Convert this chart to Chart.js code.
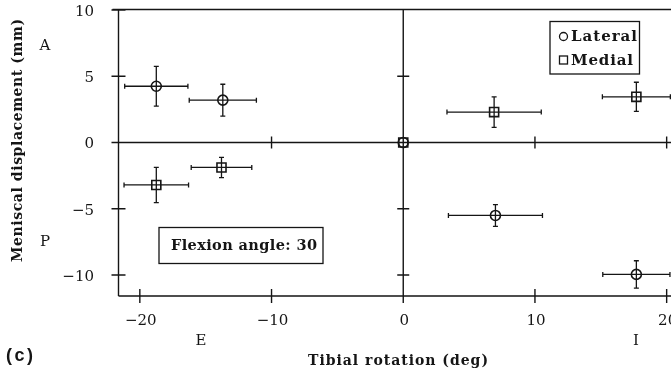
<!DOCTYPE html>
<html>
<head>
<meta charset="utf-8">
<script src="https://cdn.jsdelivr.net/npm/chart.js@4/dist/chart.umd.min.js"></script>
<style>
  html, body { margin: 0; padding: 0; background: #fff; }
  canvas { display: block; }
</style>
</head>
<body>
<canvas id="c" width="671" height="375"></canvas>
<script>
// ---- Data ----
const seriesNames = ['Lateral', 'Medial'];
const lateralX    = [-18.75, -13.7, 0, 7.0, 17.7];
const lateralY    = [4.25, 3.2, 0, -5.5, -9.95];
const lateralXErr = [2.4, 2.55, 0, 3.57, 2.55];
const lateralYErr = [1.5, 1.2, 0, 0.82, 1.03];
const medialX     = [-18.75, -13.8, 0, 6.9, 17.7];
const medialY     = [-3.2, -1.88, 0, 2.3, 3.45];
const medialXErr  = [2.45, 2.3, 0, 3.58, 2.58];
const medialYErr  = [1.33, 0.76, 0, 1.15, 1.1];

const xTickValues = [-20, -10, 0, 10, 20];
const xTickLabels = ['\u221220', '\u221210', '0', '10', '20'];
const yTickValues = [10, 5, 0, -5, -10];
const yTickLabels = ['10', '5', '0', '\u22125', '\u221210'];

const xTitle = 'Tibial rotation (deg)';
const yTitle = 'Meniscal displacement (mm)';
const annotationText = 'Flexion angle: 30';
const panelLabel = '(c)';
const yDirLabels = ['A', 'P'];
const xDirLabels = ['E', 'I'];

const INK = '#151515';
const SERIF = '"DejaVu Serif", serif';

function pts(xs, ys) { return xs.map((x, i) => ({ x: x, y: ys[i] })); }

const errorBars = {
  Lateral: { xe: lateralXErr, ye: lateralYErr },
  Medial:  { xe: medialXErr,  ye: medialYErr }
};

function fitText(ctx, text, x, y, width) {
  ctx.letterSpacing = '0px';
  const w = ctx.measureText(text).width;
  const n = Math.max(1, text.length - 1);
  const sp = Math.max(0, (width - w) / n);
  ctx.letterSpacing = sp + 'px';
  ctx.fillText(text, x, y);
  ctx.letterSpacing = '0px';
}

const framePlugin = {
  id: 'frame',
  beforeDatasetsDraw(chart) {
    const { ctx, chartArea: a, scales: { x, y } } = chart;
    ctx.save();
    ctx.strokeStyle = INK;
    ctx.lineWidth = 1.4;
    ctx.lineCap = 'butt';
    const x0 = x.getPixelForValue(0), y0 = y.getPixelForValue(0);
    ctx.beginPath();
    ctx.moveTo(a.left, a.top); ctx.lineTo(a.left, a.bottom);
    ctx.moveTo(a.left - 6, a.top); ctx.lineTo(a.right, a.top);
    ctx.moveTo(a.left, a.bottom); ctx.lineTo(a.right, a.bottom);
    ctx.moveTo(x0, a.top); ctx.lineTo(x0, a.bottom);
    ctx.moveTo(a.left, y0); ctx.lineTo(a.right, y0);
    yTickValues.forEach(v => {
      const py = y.getPixelForValue(v);
      ctx.moveTo(a.left - 7, py); ctx.lineTo(a.left + 7, py);
    });
    xTickValues.forEach(v => {
      const px = x.getPixelForValue(v);
      ctx.moveTo(px, a.bottom - 7); ctx.lineTo(px, a.bottom + 7);
    });
    yTickValues.filter(v => v !== 0 && v !== 10).forEach(v => {
      const py = y.getPixelForValue(v);
      ctx.moveTo(x0 - 6, py); ctx.lineTo(x0 + 6, py);
    });
    xTickValues.filter(v => v !== 0 && v !== -20).forEach(v => {
      const px = x.getPixelForValue(v);
      ctx.moveTo(px, y0 - 6); ctx.lineTo(px, y0 + 6);
    });
    ctx.stroke();

    ctx.lineWidth = 1.3;
    chart.data.datasets.forEach((ds) => {
      const eb = errorBars[ds.label];
      ds.data.forEach((p, i) => {
        const xe = eb.xe[i], ye = eb.ye[i];
        const cx = x.getPixelForValue(p.x), cy = y.getPixelForValue(p.y);
        ctx.beginPath();
        if (xe > 0) {
          const l = x.getPixelForValue(p.x - xe), r = x.getPixelForValue(p.x + xe);
          ctx.moveTo(l, cy); ctx.lineTo(r, cy);
          ctx.moveTo(l, cy - 2.5); ctx.lineTo(l, cy + 2.5);
          ctx.moveTo(r, cy - 2.5); ctx.lineTo(r, cy + 2.5);
        }
        if (ye > 0) {
          const t = y.getPixelForValue(p.y + ye), b = y.getPixelForValue(p.y - ye);
          ctx.moveTo(cx, t); ctx.lineTo(cx, b);
          ctx.moveTo(cx - 2.5, t); ctx.lineTo(cx + 2.5, t);
          ctx.moveTo(cx - 2.5, b); ctx.lineTo(cx + 2.5, b);
        }
        ctx.stroke();
      });
    });
    ctx.restore();
  },
  afterDraw(chart) {
    const { ctx, scales: { x, y } } = chart;
    ctx.save();
    ctx.fillStyle = INK;
    ctx.strokeStyle = INK;
    ctx.font = '15px ' + SERIF;
    ctx.textAlign = 'right';
    ctx.textBaseline = 'middle';
    yTickValues.forEach((v, i) => {
      ctx.fillText(yTickLabels[i], 94, y.getPixelForValue(v) + 2);
    });
    ctx.textAlign = 'center';
    xTickValues.forEach((v, i) => {
      ctx.fillText(xTickLabels[i], x.getPixelForValue(v) + 1, 321);
    });
    ctx.fillText(yDirLabels[0], 45, 46);
    ctx.fillText(yDirLabels[1], 45, 242);
    ctx.fillText(xDirLabels[0], 201, 341);
    ctx.fillText(xDirLabels[1], 636, 341);

    // axis titles
    ctx.font = 'bold 14px ' + SERIF;
    ctx.textAlign = 'left';
    fitText(ctx, xTitle, 308, 361, 180);
    ctx.save();
    ctx.translate(18.5, 262);
    ctx.rotate(-Math.PI / 2);
    fitText(ctx, yTitle, 0, 0, 243);
    ctx.restore();

    // panel label
    ctx.font = 'bold 18px "Liberation Sans", Arial, sans-serif';
    fitText(ctx, panelLabel, 6, 356, 27);

    // legend box
    ctx.lineWidth = 1.3;
    ctx.fillStyle = '#fff';
    ctx.fillRect(550, 21.5, 89.5, 52.5);
    ctx.strokeRect(550, 21.5, 89.5, 52.5);
    ctx.fillStyle = INK;
    ctx.beginPath();
    ctx.arc(563.5, 36.5, 4, 0, Math.PI * 2);
    ctx.stroke();
    ctx.strokeRect(559.5, 56, 8, 8);
    ctx.font = 'bold 15px ' + SERIF;
    fitText(ctx, seriesNames[0], 571, 37, 66);
    fitText(ctx, seriesNames[1], 571, 61, 62);

    // annotation box
    ctx.fillStyle = '#fff';
    ctx.fillRect(159, 227.5, 164, 36);
    ctx.strokeRect(159, 227.5, 164, 36);
    ctx.fillStyle = INK;
    ctx.font = 'bold 14.5px ' + SERIF;
    fitText(ctx, annotationText, 171, 246, 146);
    ctx.restore();
  }
};

new Chart(document.getElementById('c'), {
  type: 'scatter',
  data: {
    datasets: [
      {
        label: seriesNames[0],
        data: pts(lateralX, lateralY),
        pointStyle: 'circle',
        pointRadius: 5,
        borderColor: INK,
        backgroundColor: 'rgba(0,0,0,0)',
        borderWidth: 1.6
      },
      {
        label: seriesNames[1],
        data: pts(medialX, medialY),
        pointStyle: 'rect',
        pointRadius: 6.4,
        borderColor: INK,
        backgroundColor: 'rgba(0,0,0,0)',
        borderWidth: 1.6
      }
    ]
  },
  options: {
    responsive: false,
    animation: false,
    devicePixelRatio: 1,
    layout: { autoPadding: false, padding: { left: 118.5, right: 0, top: 9.5, bottom: 79 } },
    plugins: { legend: { display: false }, tooltip: { enabled: false } },
    scales: {
      x: { type: 'linear', min: -21.62, max: 20.33, display: false },
      y: { type: 'linear', min: -11.58, max: 10.04, display: false }
    }
  },
  plugins: [framePlugin]
});
</script>
</body>
</html>
